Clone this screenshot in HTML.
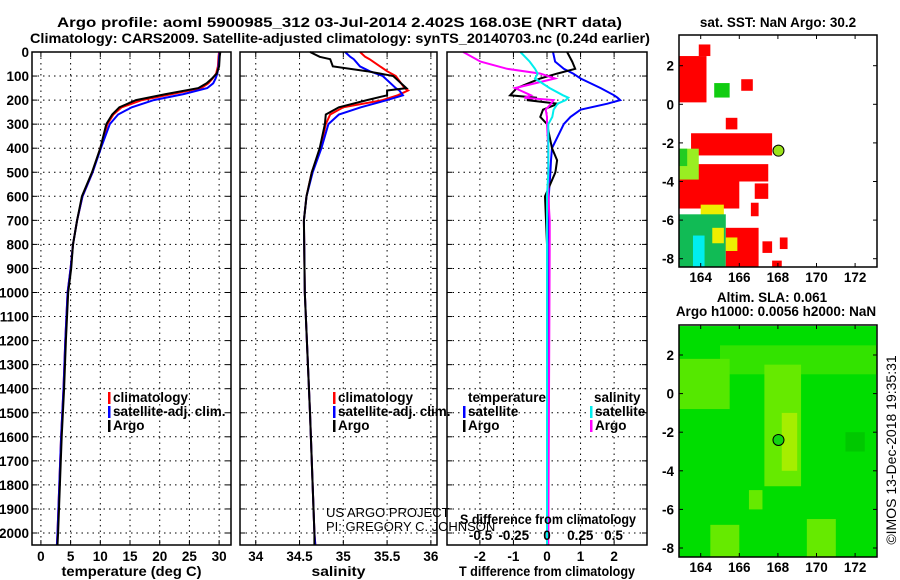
<!DOCTYPE html>
<html><head><meta charset="utf-8"><style>
body{margin:0;background:#fff}
svg{display:block;font-family:"Liberation Sans",Arial,sans-serif}
.b{font-weight:bold;font-size:13.5px}
</style></head><body>
<svg id="c" width="900" height="580" viewBox="0 0 900 580" xmlns="http://www.w3.org/2000/svg">
<rect width="900" height="580" fill="#fff"/>
<text class="b" x="57" y="27" textLength="565" lengthAdjust="spacingAndGlyphs" font-size="15">Argo profile: aoml 5900985_312 03-Jul-2014 2.402S 168.03E (NRT data)</text>
<text class="b" x="30" y="43" textLength="620" lengthAdjust="spacingAndGlyphs" font-size="15">Climatology: CARS2009. Satellite-adjusted climatology: synTS_20140703.nc (0.24d earlier)</text>
<g id="g"></g>
</svg>
<script>
// ---- data ----
const depthTicks=[0,100,200,300,400,500,600,700,800,900,1000,1100,1200,1300,1400,1500,1600,1700,1800,1900,2000];
const tempTicks=[0,5,10,15,20,25,30];
const salTicks=[34,34.5,35,35.5,36];
const tdiffTicks=[-2,-1,0,1,2];
const sdiffTicks=[-0.5,-0.25,0,0.25,0.5];
const tDepth=[0,20,60,90,110,130,150,175,200,230,260,300,400,500,600,700,800,900,1000,1200,1400,1600,1800,2000,2050];
const tArgo=[30.2,30.1,30.0,29.6,28.8,27.9,26.5,21,16,13.2,12,11,10,8.6,6.9,6.1,5.4,5.1,4.6,4.2,3.9,3.5,3.2,2.9,2.8];
const tClim=[30.0,29.9,29.8,29.5,28.9,28.2,27,22,17,13.6,12.2,11.2,10,8.7,7.0,6.1,5.4,5.0,4.5,4.1,3.8,3.4,3.1,2.8,2.7];
const tSat=[30.1,30.0,29.9,29.7,29.4,29.0,28,24,19,15.3,13,11.6,10.1,8.7,7.0,6.1,5.4,5.0,4.5,4.1,3.8,3.4,3.1,2.8,2.7];
const sDepth=[0,20,30,60,80,100,150,160,180,200,230,260,300,400,500,600,700,1000,1500,2000,2050];
const sArgo=[34.62,34.73,34.85,34.88,35.27,35.57,35.72,35.5,35.5,35.27,34.95,34.8,34.79,34.73,34.64,34.58,34.55,34.56,34.62,34.67,34.67];
const sClim=[35.19,35.25,35.3,35.42,35.5,35.6,35.7,35.74,35.62,35.45,35.0,34.85,34.8,34.74,34.64,34.58,34.55,34.56,34.62,34.67,34.68];
const sSat=[35.02,35.08,35.12,35.19,35.3,35.45,35.6,35.64,35.68,35.5,35.2,34.95,34.83,34.75,34.65,34.58,34.55,34.56,34.62,34.67,34.68];
const dDepth=[0,40,70,90,110,150,180,190,200,215,240,270,300,400,450,500,600,700,800,2050];
const dTArgo=[0.6,0.75,0.84,0.3,-0.2,-0.9,-1.1,-0.3,-0.6,0.33,-0.12,-0.2,0,0.15,0.3,0.25,-0.06,-0.03,0,0];
const dTSat=[0.18,0.24,0.5,0.78,1.0,1.6,2.0,2.1,2.18,1.8,1.0,0.7,0.5,0.15,0.12,0.1,0.05,0.05,0.02,0.02];
const dSArgo=[-0.63,-0.5,-0.3,-0.05,0.06,-0.24,-0.12,-0.17,0.05,0.03,-0.01,0,0,0.01,0.01,0.01,0.01,0.02,0.02,0.01];
const dSSat=[-0.2,-0.13,-0.09,-0.07,-0.09,0.02,0.12,0.16,0.14,0.08,0.05,0.04,0.01,0.01,0.01,0.01,0.0,0.0,0.0,0.0];
const lonTicks=[164,166,168,170,172];
const latTicks=[2,0,-2,-4,-6,-8];
// SST map cells: lon0,lon1,lat0,lat1,color
const sstCells=[[163.9,164.5,2.5,3.1,'#f00'],[162.9,164.3,0.1,2.5,'#f00'],[164.7,165.5,0.35,1.1,'#1c1'],[166.1,166.7,0.7,1.3,'#f00'],
[165.3,165.9,-1.3,-0.7,'#f00'],[163.5,167.7,-2.65,-1.5,'#f00'],[162.9,167.5,-4,-3.1,'#f00'],[162.9,166,-5.4,-4,'#f00'],
[166.8,167.5,-4.9,-4.1,'#f00'],[166.6,167,-5.8,-5.1,'#f00'],[162.9,163.9,-3.9,-2.3,'#9e2'],[162.9,163.3,-3.2,-2.3,'#2c2'],
[164,165.2,-5.8,-5.2,'#ee0'],[162.9,165.3,-8.5,-5.7,'#1b5'],[163.6,164.2,-8.5,-6.8,'#0ee'],[164.6,165.2,-7.2,-6.4,'#ee0'],
[165.3,167,-8.5,-6.4,'#f00'],[165.3,165.9,-7.6,-6.9,'#ee0'],[167.2,167.7,-7.7,-7.1,'#f00'],[168.1,168.5,-7.5,-6.9,'#f00'],[167.7,168.2,-8.5,-8.1,'#f00']];
// SLA map patches
const slaCells=[[162.9,173.1,-8.5,3.5,'#00dd00'],[165,173.1,1,2.5,'#33e300'],[162.9,165.5,-0.8,1.8,'#55e800'],[167.3,169.2,-4.8,1.5,'#66ea00'],
[168.2,169,-4,-1,'#a6ee00'],[169.5,171,-8.5,-6.5,'#66ea00'],[164.5,166,-8.5,-6.8,'#66ea00'],[166.5,167.2,-6,-5],[171.5,172.5,-3,-2,'#00c800']];
const argoLon=168.03, argoLat=-2.402;

// ---- drawing ----
const NS='http://www.w3.org/2000/svg', G=document.getElementById('g');
function mk(t,a,p){const e=document.createElementNS(NS,t);for(const k in a)e.setAttribute(k,a[k]);(p||G).appendChild(e);return e;}
function txt(x,y,s,a){const e=mk('text',Object.assign({x:x,y:y},a||{}));e.textContent=s;return e;}
const yTop=52, pxD=0.2405;
const yD=d=>yTop+d*pxD;
const panels=[{x0:32,x1:231,lo:-1.5,hi:32,ticks:tempTicks,lab:'temperature (deg C)',lw:140},
{x0:240,x1:437,lo:33.82,hi:36.07,ticks:salTicks,lab:'salinity',lw:54},
{x0:447,x1:647,lo:-2.98,hi:2.98,ticks:tdiffTicks,lab:'T difference from climatology',lw:176}];
panels.forEach((p,i)=>{p.sx=v=>p.x0+(v-p.lo)/(p.hi-p.lo)*(p.x1-p.x0);
 const g=mk('g',{});
 
 
 depthTicks.forEach(d=>{mk('line',{x1:p.x0,x2:p.x1,y1:yD(d),y2:yD(d),stroke:'#000','stroke-dasharray':'1.5 4'},g);
  mk('line',{x1:p.x0,x2:p.x0+5,y1:yD(d),y2:yD(d),stroke:'#000'},g);mk('line',{x1:p.x1-5,x2:p.x1,y1:yD(d),y2:yD(d),stroke:'#000'},g);});
 p.ticks.forEach(v=>{const x=p.sx(v);mk('line',{x1:x,x2:x,y1:yTop,y2:545,stroke:'#000','stroke-dasharray':'1.5 4'},g);
  mk('line',{x1:x,x2:x,y1:540,y2:545,stroke:'#000'},g);mk('line',{x1:x,x2:x,y1:yTop,y2:yTop+5,stroke:'#000'},g);
  const t=txt(x,561,String(v),{class:'b','text-anchor':'middle'});
  
  });
 const lb=txt((p.x0+p.x1)/2-p.lw/2,576,p.lab,{class:'b',textLength:p.lw,lengthAdjust:'spacingAndGlyphs'});
 
 
});
depthTicks.forEach(d=>{const t=txt(29,yD(d)+5,String(d),{class:'b','text-anchor':'end'});
 
 });
function line(p,vals,depths,col,name,sx){const s=sx||p.sx;const pts=vals.map((v,i)=>s(v).toFixed(1)+','+yD(depths[i]).toFixed(1)).join(' ');
 const e=mk('polyline',{points:pts,fill:'none',stroke:col,'stroke-width':2});
 
 }
const P=panels;
line(P[0],tClim,tDepth,'#f00','temp-climatology-line');
line(P[0],tSat,tDepth,'#00f','temp-satellite-line');
line(P[0],tArgo,tDepth,'#000','temp-argo-line');
line(P[1],sClim,sDepth,'#f00','sal-climatology-line');
line(P[1],sSat,sDepth,'#00f','sal-satellite-line');
line(P[1],sArgo,sDepth,'#000','sal-argo-line');
const sdx=v=>547+v*133;
line(P[2],dTSat,dDepth,'#00f','tdiff-satellite-line');
line(P[2],dTArgo,dDepth,'#000','tdiff-argo-line');
line(P[2],dSArgo,dDepth,'#f0f','sdiff-argo-line',sdx);
line(P[2],dSSat,dDepth,'#0ee','sdiff-satellite-line',sdx);
P.forEach(p=>{const r=mk('rect',{x:p.x0,y:yTop,width:p.x1-p.x0,height:545-yTop,fill:'none',stroke:'#000','stroke-width':1.5});
 
 });
sdiffTicks.forEach(v=>{const t=txt(sdx(v),540,String(v),{class:'b','text-anchor':'middle'});
 
 });
const sdt=txt(460,524,'S difference from climatology',{class:'b',textLength:176,lengthAdjust:'spacingAndGlyphs'});


function leg(x,y,col,s){const g=mk('g',{});
 
 
 mk('rect',{x:x,y:y-10,width:2.5,height:12,fill:col},g);const t=txt(x+5,y,s,{class:'b'});g.appendChild(t);}
leg(108,402,'#f00','climatology');leg(108,416,'#00f','satellite-adj. clim.');leg(108,430,'#000','Argo');
leg(333,402,'#f00','climatology');leg(333,416,'#00f','satellite-adj. clim.');leg(333,430,'#000','Argo');
const lt=txt(468,402,'temperature',{class:'b'});
const ls=txt(594,402,'salinity',{class:'b'});
leg(463,416,'#00f','satellite');leg(463,430,'#000','Argo');leg(590,416,'#0ee','satellite');leg(590,430,'#f0f','Argo');
const c1=txt(326,517,'US ARGO PROJECT',{'font-size':13});
const c2=txt(326,531,'PI: GREGORY C. JOHNSON',{'font-size':13});

// maps
function map(y0,y1,lat2y,cells,dotCol,name){
 const lx=lon=>700.7+(lon-164)*19.3, ly=lat=>lat2y+(2-lat)*19.3;
 const g=mk('g',{});
 
 
 mk('clipPath',{id:name+'c'},g);
 mk('rect',{x:679,y:y0,width:198,height:y1-y0},g.lastChild);
 const cg=mk('g',{'clip-path':'url(#'+name+'c)'},g);
 cells.forEach(c=>{const r=mk('rect',{x:lx(c[0]),y:ly(c[3]),width:lx(c[1])-lx(c[0]),height:ly(c[2])-ly(c[3]),fill:c[4]||'#66ea00'},cg);
  
  });
 const d=mk('circle',{cx:lx(argoLon),cy:ly(argoLat),r:5.5,fill:dotCol,stroke:'#000'},g);
 
 
 mk('rect',{x:679,y:y0,width:198,height:y1-y0,fill:'none',stroke:'#000','stroke-width':1.5},g);
 lonTicks.forEach(v=>{mk('line',{x1:lx(v),x2:lx(v),y1:y1,y2:y1-4,stroke:'#000'},g);mk('line',{x1:lx(v),x2:lx(v),y1:y0,y2:y0+4,stroke:'#000'},g);
  const t=txt(lx(v),y1+15,String(v),{class:'b','text-anchor':'middle'});g.appendChild(t);});
 latTicks.forEach(v=>{mk('line',{x1:679,x2:683,y1:ly(v),y2:ly(v),stroke:'#000'},g);mk('line',{x1:877,x2:873,y1:ly(v),y2:ly(v),stroke:'#000'},g);
  const t=txt(674,ly(v)+5,String(v),{class:'b','text-anchor':'end'});g.appendChild(t);});
}
map(35,267,65.7,sstCells,'#9be31a','sst-map');
map(325,557,355,slaCells,'#11d411','sla-map');
const t1=txt(778,27,'sat. SST: NaN Argo: 30.2',{class:'b','text-anchor':'middle'});
const t2=txt(772,302,'Altim. SLA: 0.061',{class:'b','text-anchor':'middle'});
const t3=txt(776,316,'Argo h1000: 0.0056 h2000: NaN',{class:'b','text-anchor':'middle'});
const w=txt(0,0,'©IMOS 13-Dec-2018 19:35:31',{'font-size':14,'text-anchor':'middle',transform:'translate(896,450) rotate(-90)'});


</script>
</body></html>
